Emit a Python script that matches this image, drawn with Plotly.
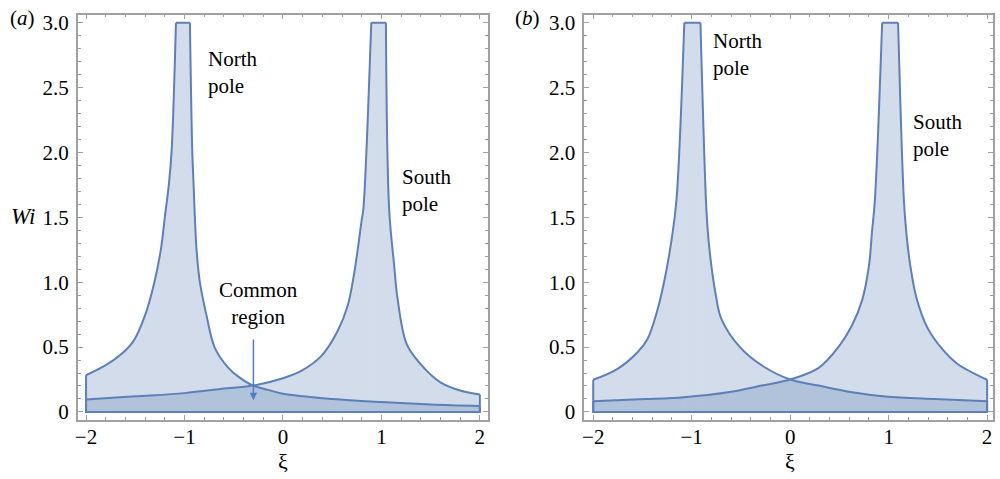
import plotly.graph_objects as go

# ---------------- data ----------------
# panel (a)
north_a_x = [-2.0, -1.8, -1.65, -1.52, -1.40, -1.306, -1.24, -1.199, -1.158, -1.131, -1.087,
             -0.945, -0.921, -0.908, -0.895, -0.878, -0.844, -0.777, -0.692, -0.557, -0.45,
             -0.304, -0.15, 0.0, 0.5, 1.0, 1.5, 2.0]
north_a_y = [0.283, 0.36, 0.44, 0.544, 0.746, 1.0, 1.253, 1.506, 1.76, 2.01, 3.0,
             3.0, 2.01, 1.76, 1.506, 1.253, 1.0, 0.746, 0.494, 0.342, 0.27,
             0.203, 0.17, 0.14, 0.10, 0.076, 0.058, 0.046]
south_a_x = [-2.0, -1.5, -1.0, -0.574, -0.304, 0.0, 0.185, 0.388, 0.553, 0.658, 0.725,
             0.80, 0.816, 0.897, 1.046, 1.079, 1.13, 1.164, 1.258, 1.40, 1.60, 1.80, 2.0]
south_a_y = [0.096, 0.12, 0.145, 0.182, 0.203, 0.26, 0.316, 0.43, 0.62, 0.82, 1.076,
             1.48, 1.56, 3.0, 3.0, 1.56, 1.126, 0.873, 0.52, 0.367, 0.228, 0.165, 0.135]

# panel (b)
north_b_x = [-2.0, -1.757, -1.55, -1.45, -1.35, -1.27, -1.20, -1.155, -1.075,
             -0.911, -0.855, -0.835, -0.80, -0.76, -0.70, -0.51, -0.27, 0.0,
             0.29, 0.63, 0.965, 1.47, 2.0]
north_b_y = [0.248, 0.33, 0.46, 0.56, 0.78, 1.04, 1.35, 1.63, 3.0,
             3.0, 1.63, 1.38, 1.126, 0.924, 0.72, 0.50, 0.35, 0.25,
             0.203, 0.152, 0.119, 0.099, 0.083]
south_b_x = [-2.0, -1.47, -1.08, -0.63, -0.29, 0.0, 0.29, 0.49, 0.63, 0.73, 0.80, 0.83,
             0.86, 0.934, 1.096, 1.155, 1.18, 1.22, 1.285, 1.40, 1.55, 1.70, 2.0]
south_b_y = [0.083, 0.099, 0.114, 0.152, 0.203, 0.25, 0.34, 0.50, 0.67, 0.86, 1.126, 1.38,
             1.63, 3.0, 3.0, 1.63, 1.38, 1.126, 0.873, 0.64, 0.48, 0.37, 0.248]

x_tick_vals = [-2, -1, 0, 1, 2]
x_tick_text = ["\u22122", "\u22121", "0", "1", "2"]
y_tick_vals = [0, 0.5, 1.0, 1.5, 2.0, 2.5, 3.0]
y_tick_text = ["0", "0.5", "1.0", "1.5", "2.0", "2.5", "3.0"]

# ---------------- styling ----------------
LINE = "rgb(93,127,186)"
FILL = "rgba(94,129,181,0.28)"
FRAME = "#a0a0a0"
FONT = "Liberation Serif"
FS = 21

fig = go.Figure()


def region(xs, ys, xa, ya):
    top = max(ys)
    i1 = ys.index(top)
    i2 = len(ys) - 1 - ys[::-1].index(top)
    pieces = [(xs[:i1 + 1], ys[:i1 + 1], "spline"),
              (xs[i1:i2 + 1], ys[i1:i2 + 1], "linear"),
              (xs[i2:], ys[i2:], "spline")]
    for px, py, shape in pieces:
        fig.add_trace(go.Scatter(x=px, y=py, mode="lines", fill="tozeroy",
                                 fillcolor=FILL,
                                 line=dict(color=LINE, width=2, shape=shape,
                                           smoothing=1.0),
                                 xaxis=xa, yaxis=ya, showlegend=False,
                                 hoverinfo="skip"))
    # vertical ends and base of the region
    fig.add_trace(go.Scatter(x=[xs[0], xs[0], xs[-1], xs[-1]],
                             y=[ys[0], 0, 0, ys[-1]], mode="lines",
                             line=dict(color=LINE, width=2),
                             xaxis=xa, yaxis=ya, showlegend=False,
                             hoverinfo="skip"))


region(north_a_x, north_a_y, "x", "y")
region(south_a_x, south_a_y, "x", "y")
region(north_b_x, north_b_y, "x2", "y2")
region(south_b_x, south_b_y, "x2", "y2")

axis_common = dict(showgrid=False, zeroline=False, showline=True, linecolor=FRAME,
                   linewidth=1.5, mirror="allticks", ticks="inside", ticklen=5,
                   tickcolor=FRAME, tickwidth=1,
                   tickfont=dict(family=FONT, size=FS, color="black"))

xminor = dict(dtick=0.2, tick0=0, ticks="inside", ticklen=3, tickcolor=FRAME)
yminor = dict(dtick=0.1, tick0=0, ticks="inside", ticklen=3, tickcolor=FRAME)
ydom = [1 - 423.3 / 479, 1 - 11.7 / 479]
fig.update_layout(
    width=1000, height=479,
    margin=dict(l=0, r=0, t=0, b=0),
    paper_bgcolor="white", plot_bgcolor="white",
    xaxis=dict(domain=[0.075, 0.486], range=[-2.084, 2.078], anchor="y",
               tickvals=x_tick_vals, ticktext=x_tick_text, ticklabelstandoff=-3,
               minor=xminor, **axis_common),
    yaxis=dict(domain=ydom, range=[-0.063, 3.063], anchor="x",
               tickvals=y_tick_vals, ticktext=y_tick_text, ticklabelstandoff=3,
               minor=yminor, **axis_common),
    xaxis2=dict(domain=[0.583, 0.993], range=[-2.091, 2.06], anchor="y2",
                tickvals=x_tick_vals, ticktext=x_tick_text, ticklabelstandoff=-3,
                minor=xminor, **axis_common),
    yaxis2=dict(domain=ydom, range=[-0.063, 3.063], anchor="x2",
                tickvals=y_tick_vals, ticktext=y_tick_text, ticklabelstandoff=3,
                minor=yminor, **axis_common),
)

tf = dict(family=FONT, size=FS, color="black")
ann = []
# panel labels
ann.append(dict(text="(<i>a</i>)", x=0.005, y=1 - 15 / 479, xref="paper", yref="paper",
                xanchor="left", yanchor="middle", showarrow=False, font=tf))
ann.append(dict(text="(<i>b</i>)", x=0.512, y=1 - 15 / 479, xref="paper", yref="paper",
                xanchor="left", yanchor="middle", showarrow=False, font=tf))
# axis titles
ann.append(dict(text="<i>Wi</i>", x=0.006, y=1 - 217 / 479, xref="paper", yref="paper",
                xanchor="left", yanchor="middle", showarrow=False,
                font=dict(family=FONT, size=23, color="black")))
ann.append(dict(text="ξ", x=0.0, y=1 - 465 / 479, xref="x", yref="paper",
                xanchor="center", yanchor="middle", showarrow=False,
                font=dict(family=FONT, size=22, color="black")))
ann.append(dict(text="ξ", x=0.0, y=1 - 465 / 479, xref="x2", yref="paper",
                xanchor="center", yanchor="middle", showarrow=False,
                font=dict(family=FONT, size=22, color="black")))
# region labels (a)
ann.append(dict(text="North<br>pole", x=-0.777, y=2.62, xref="x", yref="y",
                xanchor="left", yanchor="middle", align="left", showarrow=False, font=tf))
ann.append(dict(text="South<br>pole", x=1.188, y=1.71, xref="x", yref="y",
                xanchor="left", yanchor="middle", align="left", showarrow=False, font=tf))
ann.append(dict(text="Common<br>region", x=-0.25, y=0.835, xref="x", yref="y",
                xanchor="center", yanchor="middle", align="center", showarrow=False, font=tf))
ann.append(dict(text="", x=-0.30, y=0.09, ax=-0.30, ay=0.57, xref="x", yref="y",
                axref="x", ayref="y", showarrow=True, arrowhead=2, arrowsize=1,
                arrowwidth=1.5, arrowcolor="rgb(80,125,200)"))
# region labels (b)
ann.append(dict(text="North<br>pole", x=-0.80, y=2.756, xref="x2", yref="y2",
                xanchor="left", yanchor="middle", align="left", showarrow=False, font=tf))
ann.append(dict(text="South<br>pole", x=1.227, y=2.13, xref="x2", yref="y2",
                xanchor="left", yanchor="middle", align="left", showarrow=False, font=tf))

fig.update_layout(annotations=ann)

fig.write_html("out.html")
